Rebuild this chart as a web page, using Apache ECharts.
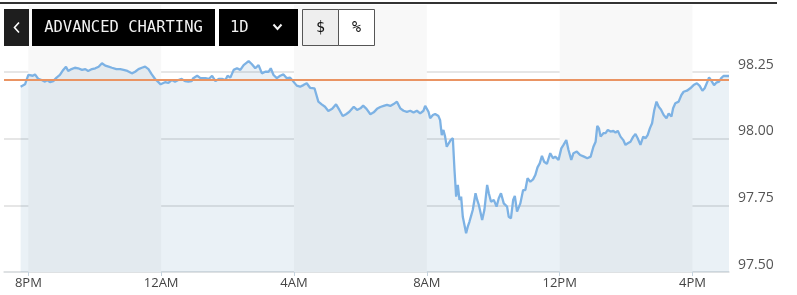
<!DOCTYPE html>
<html>
<head>
<meta charset="utf-8">
<script src="https://cdn.jsdelivr.net/npm/echarts@6/dist/echarts.min.js"></script>
<style>
  html, body { margin: 0; padding: 0; background: #fff; }
  #chart { width: 797px; height: 295px; }
</style>
</head>
<body>
<div id="chart"></div>
<script>
// Minutes after 8PM (session start) for each sample
const minutesFrom8PM = [-14,-6,0,3,8,12,18,24,30,34,39,45,51,57,63,68,72,78,84,90,97,103,108,115,121,127,133,139,145,151,159,166,172,179,187,193,199,205,211,217,223,229,235,239,247,253,259,265,271,277,283,289,295,298,305,311,320,326,332,338,344,350,356,360,365,371,377,383,389,398,404,410,416,422,428,434,438,443,449,455,461,467,473,479,485,491,497,503,509,517,524,530,536,542,549,556,562,568,574,580,588,594,600,605,611,618,624,630,636,642,648,654,660,666,672,678,684,690,696,702,708,714,717,723,726,731,735,741,744,747,750,753,756,763,767,770,773,776,779,782,785,788,791,794,797,800,803,808,811,814,820,824,829,832,836,841,846,850,854,859,865,868,872,876,879,883,889,894,898,902,907,912,916,920,924,928,932,937,943,948,952,958,963,967,972,976,981,985,991,997,1004,1010,1016,1021,1025,1028,1031,1034,1039,1043,1047,1052,1057,1061,1065,1070,1075,1079,1083,1088,1093,1097,1101,1106,1111,1115,1119,1123,1127,1131,1135,1139,1143,1148,1153,1157,1162,1165,1169,1175,1180,1184,1190,1196,1202,1208,1213,1218,1222,1227,1230,1234,1239,1243,1248,1252,1256,1260,1266];
const prices = [98.194,98.203,98.238,98.240,98.235,98.240,98.223,98.219,98.213,98.219,98.211,98.215,98.228,98.238,98.257,98.269,98.253,98.260,98.265,98.263,98.257,98.260,98.253,98.260,98.263,98.269,98.282,98.273,98.269,98.265,98.260,98.260,98.257,98.253,98.244,98.250,98.260,98.265,98.269,98.260,98.240,98.223,98.211,98.203,98.211,98.208,98.219,98.213,98.219,98.223,98.215,98.213,98.215,98.226,98.235,98.226,98.226,98.223,98.235,98.215,98.223,98.223,98.219,98.235,98.228,98.257,98.263,98.257,98.275,98.290,98.278,98.263,98.275,98.244,98.250,98.250,98.263,98.238,98.226,98.235,98.240,98.226,98.228,98.213,98.198,98.194,98.200,98.207,98.190,98.188,98.138,98.128,98.119,98.103,98.111,98.128,98.107,98.084,98.091,98.100,98.119,98.107,98.113,98.123,98.111,98.091,98.098,98.111,98.118,98.122,98.126,98.122,98.129,98.138,98.113,98.104,98.100,98.104,98.097,98.104,98.094,98.104,98.122,98.100,98.076,98.088,98.092,98.084,98.069,98.013,98.032,98.007,97.969,97.994,98.001,97.882,97.782,97.826,97.770,97.782,97.707,97.714,97.645,97.670,97.688,97.710,97.732,97.795,97.770,97.751,97.695,97.732,97.826,97.795,97.763,97.770,97.745,97.776,97.795,97.757,97.745,97.707,97.701,97.770,97.785,97.726,97.757,97.807,97.807,97.851,97.838,97.847,97.863,97.892,97.907,97.935,97.913,97.905,97.945,97.926,97.932,97.920,97.963,97.976,97.994,97.957,97.920,97.945,97.951,97.938,97.932,97.926,97.932,97.969,97.988,98.047,98.038,98.007,98.020,98.020,98.032,98.026,98.029,98.022,98.029,98.007,97.994,97.976,97.982,97.988,98.007,98.017,98.001,97.976,98.007,98.001,98.013,98.038,98.057,98.107,98.138,98.119,98.109,98.088,98.076,98.094,98.082,98.113,98.132,98.138,98.163,98.175,98.179,98.188,98.200,98.207,98.197,98.179,98.188,98.213,98.229,98.217,98.200,98.209,98.213,98.226,98.234,98.234,98.234];
const previousClose = 98.215;
const tickMinutes = [0, 240, 480, 720, 960, 1200];
const tickLabels = ['8PM', '12AM', '4AM', '8AM', '12PM', '4PM'];
const shadedBands = [[0, 240], [480, 720], [960, 1200]];
const yMin = 97.5, yMax = 98.5, yStep = 0.25;

const chart = echarts.init(document.getElementById('chart'), null, { renderer: 'canvas' });
const labelFor = {};
tickMinutes.forEach((m, i) => { labelFor[m] = tickLabels[i]; });

const monoFont = '"DejaVu Sans Mono", "Liberation Mono", monospace';

chart.setOption({
  animation: false,
  backgroundColor: '#ffffff',
  grid: { left: 4, right: 68, top: 5, bottom: 23, containLabel: false },
  xAxis: {
    type: 'value',
    min: -44,
    max: 1266,
    axisLine: { show: true, lineStyle: { color: '#dcdfe2', width: 1.5 } },
    axisTick: { show: true, customValues: tickMinutes, length: 4, lineStyle: { color: '#c5d3de', width: 1 } },
    axisLabel: {
      customValues: tickMinutes,
      formatter: v => labelFor[v] || '',
      color: '#444',
      fontFamily: '"Open Sans", sans-serif',
      fontSize: 13,
      margin: 5
    },
    splitLine: { show: false }
  },
  yAxis: {
    type: 'value',
    position: 'right',
    min: yMin,
    max: yMax,
    interval: yStep,
    axisLine: { show: false },
    axisTick: { show: false },
    axisLabel: {
      color: '#555',
      fontFamily: '"Open Sans", sans-serif',
      fontSize: 14,
      margin: 9,
      verticalAlign: 'bottom',
      showMaxLabel: false,
      formatter: v => v.toFixed(2)
    },
    splitLine: { show: true, showMaxLine: false, lineStyle: { color: '#dedede', width: 1.5 } }
  },
  series: [
    {
      type: 'line',
      name: 'bands',
      data: [],
      z: 0,
      silent: true,
      markArea: {
        silent: true,
        itemStyle: { color: '#f8f8f8' },
        data: shadedBands.map(b => [{ xAxis: b[0] }, { xAxis: b[1] }])
      }
    },
    {
      type: 'line',
      name: 'price',
      z: 3,
      data: minutesFrom8PM.map((m, i) => [m, prices[i]]),
      symbol: 'none',
      smooth: false,
      lineStyle: { color: '#7db2e4', width: 2.3 },
      areaStyle: { color: 'rgba(60,120,170,0.15)', origin: 'start' },
      markLine: {
        silent: true,
        symbol: ['none', 'none'],
        label: { show: false },
        lineStyle: { color: '#ea9463', width: 2, type: 'solid' },
        data: [{ yAxis: previousClose }]
      }
    }
  ],
  graphic: [
    { type: 'line', z: 100, shape: { x1: 0, y1: 3, x2: 777, y2: 3 }, style: { stroke: '#333', lineWidth: 2 } },
    { type: 'rect', z: 100, shape: { x: 4, y: 9, width: 25, height: 37 }, style: { fill: '#1e1e1e' } },
    { type: 'polyline', z: 101, shape: { points: [[19, 22.5], [14.5, 27.5], [19, 32.5]] }, style: { stroke: '#ffffff', lineWidth: 1.6, fill: null } },
    { type: 'rect', z: 100, shape: { x: 32, y: 9, width: 183, height: 37 }, style: { fill: '#000' } },
    { type: 'text', z: 101, x: 123.5, y: 28, style: { text: 'ADVANCED CHARTING', fill: '#f2f2f2', font: '15.5px ' + monoFont, align: 'center', verticalAlign: 'middle' } },
    { type: 'rect', z: 100, shape: { x: 219, y: 9, width: 79, height: 37 }, style: { fill: '#000' } },
    { type: 'text', z: 101, x: 230, y: 28, style: { text: '1D', fill: '#f2f2f2', font: '15.5px ' + monoFont, align: 'left', verticalAlign: 'middle' } },
    { type: 'polyline', z: 101, shape: { points: [[273.5, 24.5], [277.5, 29], [281.5, 24.5]] }, style: { stroke: '#f2f2f2', lineWidth: 2, fill: null } },
    { type: 'rect', z: 100, shape: { x: 302.5, y: 9.5, width: 36, height: 36 }, style: { fill: '#eeeeee', stroke: '#555', lineWidth: 1 } },
    { type: 'text', z: 101, x: 320.5, y: 28, style: { text: '$', fill: '#111', font: '15px ' + monoFont, align: 'center', verticalAlign: 'middle' } },
    { type: 'rect', z: 100, shape: { x: 338.5, y: 9.5, width: 36, height: 36 }, style: { fill: '#ffffff', stroke: '#555', lineWidth: 1 } },
    { type: 'text', z: 101, x: 356.5, y: 28, style: { text: '%', fill: '#111', font: '15px ' + monoFont, align: 'center', verticalAlign: 'middle' } }
  ]
});
</script>
</body>
</html>
